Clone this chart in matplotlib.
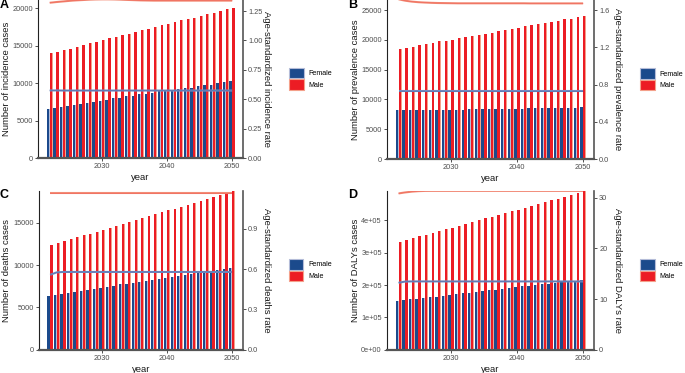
import matplotlib
matplotlib.use("Agg")
import matplotlib.pyplot as plt
from matplotlib.patches import Patch

plt.rcParams["font.family"] = ["Liberation Sans", "DejaVu Sans"]

W, H = 685, 373

years = list(range(2022, 2051))

# incidence
inc_female = [6620, 6750, 6890, 6980, 7110, 7240, 7380, 7550, 7690, 7820,
              7960, 8090, 8270, 8350, 8490, 8620, 8710, 8890, 8980, 9070,
              9160, 9290, 9420, 9560, 9690, 9820, 9960, 10090, 10270]
inc_male = [14000, 14200, 14400, 14600, 14850, 15100, 15300, 15450, 15750, 15950,
            16150, 16400, 16600, 16800, 17050, 17200, 17500, 17700, 17900, 18150,
            18400, 18550, 18700, 18950, 19200, 19350, 19600, 19850, 20000]
inc_rate_female = [0.576, 0.576, 0.575, 0.575, 0.575, 0.575, 0.575, 0.575, 0.575, 0.575,
                   0.575, 0.575, 0.575, 0.575, 0.575, 0.575, 0.575, 0.575, 0.575, 0.575,
                   0.575, 0.575, 0.575, 0.575, 0.575, 0.575, 0.575, 0.575, 0.575]
inc_rate_male = [1.320, 1.326, 1.331, 1.336, 1.340, 1.343, 1.346, 1.348, 1.349, 1.349,
                 1.348, 1.346, 1.344, 1.342, 1.340, 1.339, 1.338, 1.338, 1.338, 1.338,
                 1.338, 1.338, 1.338, 1.338, 1.338, 1.338, 1.338, 1.338, 1.338]

# prevalence
prev_female = [8150, 8160, 8180, 8190, 8210, 8220, 8240, 8260, 8270, 8290,
               8300, 8320, 8340, 8350, 8370, 8390, 8410, 8430, 8450, 8460,
               8480, 8500, 8520, 8540, 8560, 8590, 8610, 8640, 8700]
prev_male = [18460, 18620, 18850, 19070, 19300, 19520, 19740, 19860, 20020, 20250,
             20410, 20580, 20810, 21030, 21200, 21420, 21650, 21810, 21980, 22260,
             22480, 22650, 22820, 23040, 23210, 23430, 23550, 23770, 24050]
prev_rate_female = [0.727] * 29
prev_rate_male = [1.715, 1.700, 1.690, 1.684, 1.680, 1.677, 1.675, 1.674, 1.673, 1.672,
                  1.672, 1.672, 1.672, 1.672, 1.672, 1.672, 1.672, 1.672, 1.672, 1.672,
                  1.671, 1.671, 1.671, 1.671, 1.671, 1.671, 1.671, 1.671, 1.671]

# deaths
death_female = [6380, 6500, 6610, 6730, 6850, 6930, 7050, 7170, 7280, 7440,
                7560, 7720, 7800, 7910, 7990, 8110, 8230, 8350, 8460, 8580,
                8700, 8820, 8940, 9020, 9170, 9250, 9410, 9490, 9650]
death_male = [12360, 12560, 12800, 13030, 13270, 13500, 13660, 13900, 14130, 14370,
              14570, 14800, 15040, 15280, 15510, 15750, 15980, 16220, 16460, 16610,
              16850, 17090, 17320, 17560, 17800, 18030, 18230, 18540, 18740]
death_rate_female = [0.557, 0.575, 0.578, 0.578, 0.578, 0.578, 0.578, 0.578, 0.578, 0.578,
                     0.578, 0.578, 0.578, 0.578, 0.578, 0.578, 0.578, 0.578, 0.578, 0.578,
                     0.578, 0.578, 0.578, 0.578, 0.578, 0.578, 0.578, 0.578, 0.578]
death_rate_male = [1.168] * 29

# DALYs
daly_female = [150400, 152500, 155600, 156600, 159700, 161800, 163800, 165900, 169000, 172100,
               174100, 176200, 179300, 181300, 183400, 185500, 188500, 190600, 193700, 195800,
               197800, 200900, 203000, 204000, 207100, 209200, 210200, 212200, 215300]
daly_male = [332800, 339000, 345200, 350300, 355500, 360600, 365800, 371900, 377100, 382200,
             388400, 393600, 399800, 405900, 411100, 416200, 422400, 428600, 432700, 437900,
             444100, 449200, 455400, 461600, 466700, 471900, 478100, 484200, 490400]
daly_rate_female = [13.22, 13.45, 13.48, 13.48, 13.48, 13.48, 13.48, 13.48, 13.48, 13.48,
                    13.48, 13.48, 13.48, 13.48, 13.48, 13.48, 13.48, 13.48, 13.48, 13.48,
                    13.48, 13.48, 13.48, 13.48, 13.48, 13.48, 13.48, 13.48, 13.48]
daly_rate_male = [30.85, 31.05, 31.20, 31.30, 31.35, 31.36, 31.36, 31.36, 31.36, 31.36,
                  31.36, 31.36, 31.36, 31.36, 31.36, 31.36, 31.36, 31.36, 31.36, 31.36,
                  31.36, 31.36, 31.36, 31.36, 31.36, 31.36, 31.36, 31.36, 31.36]

x_ticks = [2030, 2040, 2050]

FEMALE = "#1B4A8C"
MALE = "#EC1C24"
FEMALE_LIGHT = "#B4BCD8"
MALE_LIGHT = "#F4A08A"
FEMALE_LINE = "#7489C0"
MALE_LINE = "#F28C76"


def rect(x0, y0, x1, y1):
    # pixel box -> figure fraction
    return [x0 / W, 1 - y1 / H, (x1 - x0) / W, (y1 - y0) / H]


def draw_panel(fig, box, letter, female, male, f_rate, m_rate,
               ylim, y2lim, yticks, ylabels, y2ticks, y2labels,
               ylab, y2lab):
    x0, y0, x1, y1 = box
    ax = fig.add_axes(rect(x0, y0, x1, y1))
    bw = 0.45
    fx = [y - bw for y in years]
    mx = years
    ax.bar(fx, female, width=bw, align="edge", color=FEMALE_LIGHT, linewidth=0)
    ax.bar(fx, female, width=bw * 0.8, align="edge", color=FEMALE, linewidth=0)
    ax.bar(mx, male, width=bw, align="edge", color=MALE_LIGHT, linewidth=0)
    ax.bar(mx, male, width=bw * 0.8, align="edge", color=MALE, linewidth=0)
    ax.set_xlim(2020.2, 2051.7)
    ax.set_ylim(*ylim)
    ax.set_xticks(x_ticks)
    ax.set_xticklabels([str(t) for t in x_ticks])
    ax.set_yticks(yticks)
    ax.set_yticklabels(ylabels)

    ax2 = ax.twinx()
    ax2.plot(years, f_rate, color=FEMALE_LINE, lw=1.5, solid_capstyle="butt")
    ax2.plot(years, f_rate, color=FEMALE, lw=0.5, alpha=0.3)
    ax2.plot(years, m_rate, color=MALE_LINE, lw=1.5, solid_capstyle="butt")
    ax2.plot(years, m_rate, color=MALE, lw=0.5, alpha=0.3)
    ax2.set_ylim(*y2lim)
    ax2.set_yticks(y2ticks)
    ax2.set_yticklabels(y2labels)

    for a in (ax, ax2):
        for s in a.spines.values():
            s.set_visible(False)
        a.tick_params(axis="both", length=2, width=0.6, color="#333333",
                      labelsize=5.3, labelcolor="#4D4D4D", pad=1.5)
    ax.spines["left"].set_visible(True)
    ax.spines["left"].set_linewidth(0.8)
    ax.spines["left"].set_color("#222222")
    ax.spines["bottom"].set_visible(True)
    ax.spines["bottom"].set_linewidth(1.6)
    ax.spines["bottom"].set_color("#555555")
    ax2.spines["right"].set_visible(True)
    ax2.spines["right"].set_linewidth(1.2)
    ax2.spines["right"].set_color("#555555")

    xc = (x0 + x1) / 2
    fig.text(xc / W, 1 - (y1 + 19.5) / H, "year", fontsize=6.8,
             ha="center", va="center", color="#1a1a1a")
    fig.text((x0 - 31.5) / W, 1 - ((y0 + y1) / 2) / H, ylab, fontsize=6.8,
             rotation=90, ha="center", va="center", color="#1a1a1a")
    fig.text((x1 + 23.5) / W, 1 - ((y0 + y1) / 2) / H, y2lab, fontsize=6.8,
             rotation=270, ha="center", va="center", color="#1a1a1a")
    fig.text((x0 - 34) / W, 1 - (y0 + 4.5) / H, letter, fontsize=9,
             fontweight="bold", ha="center", va="center")

    handles = [Patch(facecolor=FEMALE, edgecolor=FEMALE_LIGHT, linewidth=0.8, label="Female"),
               Patch(facecolor=MALE, edgecolor=MALE_LIGHT, linewidth=0.8, label="Male")]
    lx = x1 + 45.5
    ly = (y0 + y1) / 2 - 11.5
    fig.legend(handles=handles, loc="upper left",
               bbox_to_anchor=(lx / W, 1 - ly / H), frameon=False,
               fontsize=5.1, handlelength=2.1, handleheight=1.95,
               labelspacing=0.15, handletextpad=0.7, borderpad=0,
               borderaxespad=0)
    return ax, ax2


fig = plt.figure(figsize=(W / 100, H / 100), dpi=100)

draw_panel(fig, (38, 0, 243.3, 158.3), "A", inc_female, inc_male,
           inc_rate_female, inc_rate_male,
           (0, 21065), (0, 1.3434),
           [0, 5000, 10000, 15000, 20000], ["0", "5000", "10000", "15000", "20000"],
           [0, 0.25, 0.5, 0.75, 1.0, 1.25], ["0.00", "0.25", "0.50", "0.75", "1.00", "1.25"],
           "Number of incidence cases", "Age-standardized incidence rate")

draw_panel(fig, (386.7, 0, 594.3, 159), "B", prev_female, prev_male,
           prev_rate_female, prev_rate_male,
           (0, 26680), (0, 1.7074),
           [0, 5000, 10000, 15000, 20000, 25000],
           ["0", "5000", "10000", "15000", "20000", "25000"],
           [0, 0.4, 0.8, 1.2, 1.6], ["0.0", "0.4", "0.8", "1.2", "1.6"],
           "Number of prevalence cases", "Age-standardized prevalence rate")

draw_panel(fig, (38.5, 191, 243, 349.7), "C", death_female, death_male,
           death_rate_female, death_rate_male,
           (0, 18740), (0, 1.180),
           [0, 5000, 10000, 15000], ["0", "5000", "10000", "15000"],
           [0, 0.3, 0.6, 0.9], ["0.0", "0.3", "0.6", "0.9"],
           "Number of deaths cases", "Age-standardized deaths rate")

draw_panel(fig, (386.7, 191, 594.3, 349.7), "D", daly_female, daly_male,
           daly_rate_female, daly_rate_male,
           (0, 490600), (0, 31.33),
           [0, 100000, 200000, 300000, 400000],
           ["0e+00", "1e+05", "2e+05", "3e+05", "4e+05"],
           [0, 10, 20, 30], ["0", "10", "20", "30"],
           "Number of DALYs cases", "Age-standardized DALYs rate")

fig.savefig("out.png", dpi=100)
